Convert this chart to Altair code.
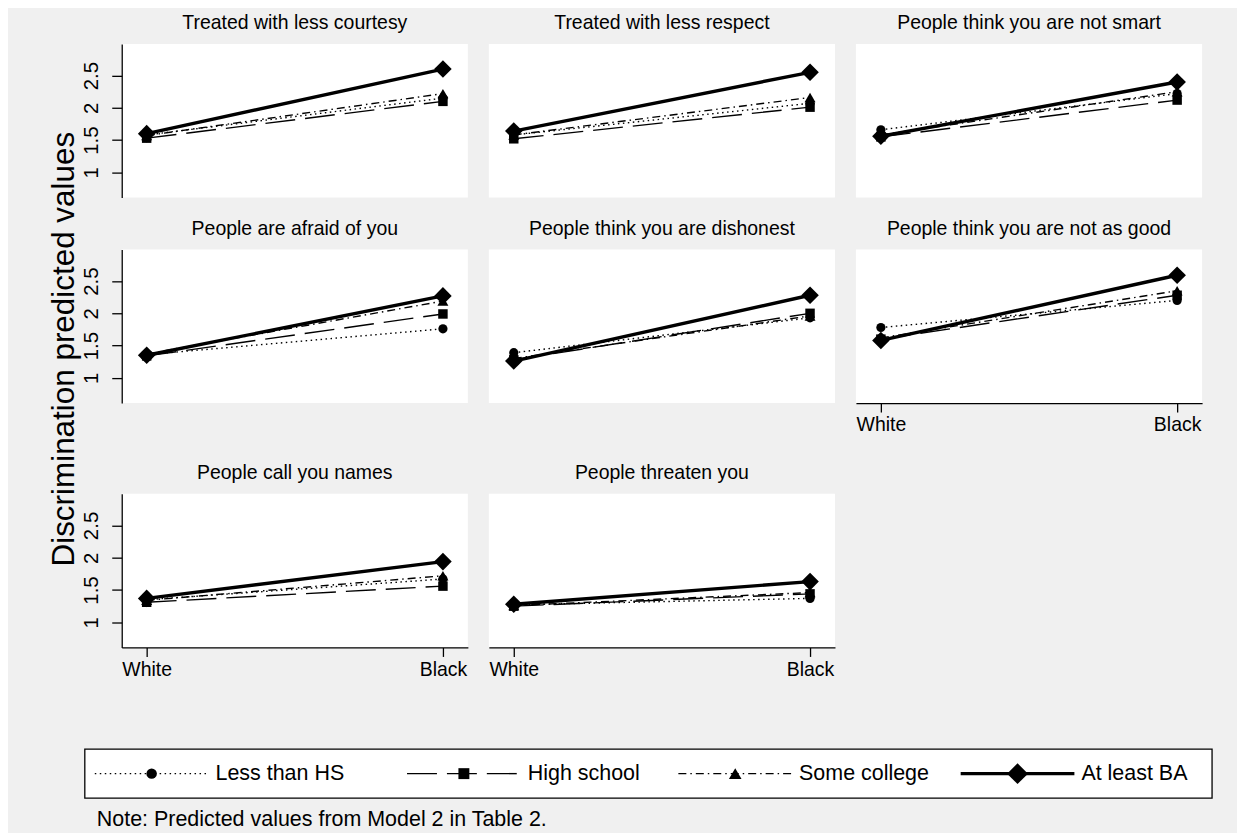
import altair as alt
import pandas as pd

# ---------------- data ----------------
PANELS = [
    "Treated with less courtesy",
    "Treated with less respect",
    "People think you are not smart",
    "People are afraid of you",
    "People think you are dishonest",
    "People think you are not as good",
    "People call you names",
    "People threaten you",
]
SERIES = ["Less than HS", "High school", "Some college", "At least BA"]
RACE = ["White", "Black"]
Y_TICKS = [1, 1.5, 2, 2.5]
Y_TITLE = ["Discrimination predicted values"]
NOTE = ["Note: Predicted values from Model 2 in Table 2."]

LESS_HS_WHITE = [1.58, 1.58, 1.66, 1.36, 1.39, 1.78, 1.35, 1.27]
LESS_HS_BLACK = [2.15, 2.07, 2.22, 1.76, 1.93, 2.20, 1.67, 1.37]
HIGH_SCHOOL_WHITE = [1.53, 1.52, 1.55, 1.34, 1.28, 1.60, 1.31, 1.25]
HIGH_SCHOOL_BLACK = [2.10, 2.01, 2.12, 1.99, 2.00, 2.28, 1.56, 1.44]
SOME_COLLEGE_WHITE = [1.57, 1.58, 1.58, 1.37, 1.30, 1.62, 1.34, 1.26]
SOME_COLLEGE_BLACK = [2.22, 2.16, 2.25, 2.19, 1.96, 2.35, 1.72, 1.46]
AT_LEAST_BA_WHITE = [1.60, 1.64, 1.56, 1.35, 1.26, 1.58, 1.37, 1.28]
AT_LEAST_BA_BLACK = [2.60, 2.55, 2.40, 2.27, 2.28, 2.59, 1.94, 1.63]

VALUES = {
    "Less than HS": (LESS_HS_WHITE, LESS_HS_BLACK),
    "High school": (HIGH_SCHOOL_WHITE, HIGH_SCHOOL_BLACK),
    "Some college": (SOME_COLLEGE_WHITE, SOME_COLLEGE_BLACK),
    "At least BA": (AT_LEAST_BA_WHITE, AT_LEAST_BA_BLACK),
}

rows = []
for s in SERIES:
    w, b = VALUES[s]
    for i, p in enumerate(PANELS):
        rows.append({"panel": p, "series": s, "race": "White", "value": w[i]})
        rows.append({"panel": p, "series": s, "race": "Black", "value": b[i]})
df = pd.DataFrame(rows)

# ---------------- styles ----------------
FONT = "Liberation Sans"
PW, PH = 347, 154
STYLE = {
    "Less than HS": dict(dash=[1.5, 3.5], width=1.4, shape="circle", size=85, lsize=110),
    "High school": dict(dash=[30, 10], width=1.4, shape="square", size=90, lsize=120),
    "Some college": dict(dash=[8, 4, 1.5, 4], width=1.4, shape="triangle-up", size=120, lsize=160),
    "At least BA": dict(dash=None, width=3.4, shape="diamond", size=310, lsize=440),
}

XAXIS = alt.Axis(labelAngle=0, labelFont=FONT, labelFontSize=19.5, labelColor="black",
                 tickSize=9, tickColor="black", tickWidth=1.3, domainColor="black",
                 domainWidth=1.3, labelPadding=4, grid=False)
YAXIS = alt.Axis(values=Y_TICKS, format=".1~f", labelAngle=270, labelAlign="center",
                 labelBaseline="bottom", labelFont=FONT, labelFontSize=20.5, labelColor="black",
                 tickSize=10, tickColor="black", tickWidth=1.3, domainColor="black",
                 domainWidth=1.3, labelPadding=10, grid=False, labelOverlap=False)
YSCALE = alt.Scale(domain=[0.61, 2.99], nice=False, zero=False)
XSCALE = alt.Scale(type="point", padding=0.0842, domain=RACE)


def panel(i, show_x, show_y):
    base = alt.Chart(df).transform_filter(alt.datum.panel == PANELS[i])
    x = alt.X("race:N", sort=RACE, scale=XSCALE, axis=XAXIS if show_x else None, title=None)
    y = alt.Y("value:Q", scale=YSCALE, axis=YAXIS if show_y else None, title=None)
    layers = []
    for s in SERIES:
        st = STYLE[s]
        sub = base.transform_filter(alt.datum.series == s)
        kw = dict(color="black", strokeWidth=st["width"])
        if st["dash"]:
            kw["strokeDash"] = st["dash"]
        layers.append(sub.mark_line(**kw).encode(x=x, y=y))
    for s in SERIES:
        st = STYLE[s]
        sub = base.transform_filter(alt.datum.series == s)
        layers.append(sub.mark_point(filled=True, shape=st["shape"], size=st["size"],
                                     color="black", opacity=1).encode(x=x, y=y))
    return alt.layer(*layers).properties(
        width=PW, height=PH,
        title=alt.TitleParams(text=PANELS[i], font=FONT, fontSize=19.5, fontWeight="normal",
                              color="black", anchor="middle", offset=10),
        view=alt.ViewBackground(fill="white", strokeWidth=0),
    )


row1 = alt.hconcat(panel(0, False, True), panel(1, False, False), panel(2, False, False), spacing=21)
row2 = alt.hconcat(panel(3, False, True), panel(4, False, False), panel(5, True, False), spacing=21)
row3 = alt.hconcat(panel(6, True, True), panel(7, True, False), spacing=21)
grid = alt.vconcat(alt.vconcat(row1, row2, spacing=21), row3, spacing=28)

ytitle = alt.Chart(pd.DataFrame({"t": Y_TITLE})).mark_text(
    angle=270, font=FONT, fontSize=31.5, color="black", align="center", baseline="middle"
).encode(text="t:N", x=alt.value(57), y=alt.value(306)).properties(width=74, height=600)

top = alt.hconcat(ytitle, grid, spacing=0)

# ---------------- legend (chart-pixel layout) ----------------
LEG_W, LEG_H = 1207, 49
BOX_X0, BOX_X1 = 77, 1207
KEY_START = [87, 400, 672, 955]
KEY_W = 114
TEXT_GAP = 121
leg_df = pd.DataFrame({
    "series": SERIES,
    "x0": KEY_START,
    "x1": [k + KEY_W for k in KEY_START],
    "xm": [k + KEY_W / 2 for k in KEY_START],
    "xt": [k + TEXT_GAP for k in KEY_START],
})
LX = alt.Scale(domain=[0, LEG_W], nice=False, zero=False)

leg_layers = [
    alt.Chart(pd.DataFrame({"a": [BOX_X0], "b": [BOX_X1]})).mark_rect(
        fill="white", stroke="black", strokeWidth=1.3
    ).encode(x=alt.X("a:Q", scale=LX, axis=None), x2="b:Q", y=alt.value(0), y2=alt.value(LEG_H))
]
for s in SERIES:
    st = STYLE[s]
    sub = alt.Chart(leg_df).transform_filter(alt.datum.series == s)
    kw = dict(color="black", strokeWidth=st["width"])
    if st["dash"]:
        kw["strokeDash"] = st["dash"]
    leg_layers.append(sub.mark_rule(**kw).encode(
        x=alt.X("x0:Q", scale=LX, axis=None), x2="x1:Q", y=alt.value(LEG_H / 2)))
    leg_layers.append(sub.mark_point(filled=True, shape=st["shape"], size=st["lsize"],
                                     color="black", opacity=1).encode(
        x=alt.X("xm:Q", scale=LX, axis=None), y=alt.value(LEG_H / 2)))
leg_layers.append(alt.Chart(leg_df).mark_text(
    font=FONT, fontSize=21.5, color="black", align="left", baseline="middle"
).encode(x=alt.X("xt:Q", scale=LX, axis=None), y=alt.value(LEG_H / 2), text="series:N"))
leg_layers.append(alt.Chart(pd.DataFrame({"t": NOTE})).mark_text(
    font=FONT, fontSize=21.5, color="black", align="left", baseline="middle"
).encode(x=alt.value(89), y=alt.value(71), text="t:N"))

legend = alt.layer(*leg_layers).properties(width=LEG_W, height=LEG_H)

chart = alt.vconcat(top, legend, spacing=69).properties(
    background="#f0f0f0",
    padding={"left": 0, "top": 4, "right": 24, "bottom": 1},
).configure_view(strokeWidth=0)

chart.save("out.html", embed_options={"renderer": "svg", "actions": False})
